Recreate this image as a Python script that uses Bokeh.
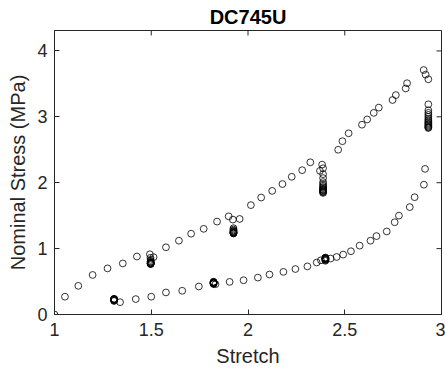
import math
from bokeh.plotting import figure
from bokeh.models import FixedTicker, Range1d
from bokeh.embed import file_html
from bokeh.resources import INLINE

# Multi-step relaxation test: loading ramps with holds, then unloading ramps with holds
load_stretch = [
    1.000, 1.054, 1.123, 1.197, 1.274, 1.353, 1.426, 1.493,
    1.496, 1.497, 1.497, 1.497, 1.497, 1.497, 1.497, 1.497, 1.497, 1.497, 1.497, 1.497,
    1.512, 1.576, 1.643, 1.706, 1.771, 1.840, 1.900,
    1.922, 1.925, 1.925, 1.925, 1.925, 1.925, 1.925, 1.925, 1.925, 1.925, 1.925, 1.925,
    1.957, 2.015, 2.068, 2.125, 2.178, 2.226, 2.280, 2.322,
    2.383, 2.388, 2.372, 2.388, 2.388, 2.388, 2.388, 2.388, 2.388, 2.388, 2.388, 2.388,
    2.388, 2.388, 2.388, 2.388, 2.388,
    2.466, 2.488, 2.520, 2.589, 2.616, 2.650, 2.676, 2.747, 2.764, 2.815, 2.822, 2.908,
    2.918, 2.932, 2.932, 2.932, 2.932, 2.932, 2.932, 2.932, 2.932, 2.932, 2.932, 2.932,
    2.932, 2.932, 2.932, 2.932, 2.932,
]
load_stress = [
    0.000, 0.270, 0.435, 0.600, 0.700, 0.775, 0.880, 0.914,
    0.860, 0.830, 0.810, 0.800, 0.790, 0.785, 0.780, 0.777, 0.774, 0.771, 0.768, 0.765,
    0.870, 1.020, 1.120, 1.226, 1.300, 1.410, 1.490,
    1.440, 1.310, 1.290, 1.275, 1.265, 1.257, 1.250, 1.245, 1.240, 1.236, 1.233, 1.230,
    1.450, 1.660, 1.775, 1.876, 1.980, 2.090, 2.190, 2.310,
    2.275, 2.220, 2.180, 2.130, 2.070, 2.010, 1.980, 1.955, 1.935, 1.920, 1.905, 1.895,
    1.885, 1.875, 1.865, 1.855, 1.845,
    2.500, 2.630, 2.750, 2.880, 2.960, 3.060, 3.140, 3.255, 3.330, 3.430, 3.510, 3.710,
    3.640, 3.570, 3.190, 3.100, 3.060, 3.030, 3.000, 2.970, 2.950, 2.930, 2.910, 2.895,
    2.880, 2.865, 2.850, 2.840, 2.830,
]

unload_stretch = [
    2.915, 2.909, 2.861, 2.836, 2.780, 2.758, 2.717, 2.664, 2.633, 2.577, 2.532,
    2.492, 2.458, 2.427,
    2.400, 2.400, 2.400, 2.400, 2.400, 2.400, 2.400, 2.400, 2.400, 2.400,
    2.377, 2.355, 2.307, 2.245, 2.183, 2.111, 2.051, 1.977, 1.905, 1.832,
    1.822, 1.822, 1.822, 1.822, 1.822, 1.822, 1.822, 1.822, 1.822,
    1.746, 1.660, 1.576, 1.500, 1.420, 1.339,
    1.308, 1.308, 1.308, 1.308, 1.308, 1.308, 1.308, 1.308, 1.308,
]
unload_stress = [
    2.210, 1.970, 1.780, 1.630, 1.500, 1.400, 1.260, 1.190, 1.120, 1.045, 0.960,
    0.909, 0.873, 0.849,
    0.815, 0.825, 0.832, 0.838, 0.843, 0.848, 0.852, 0.856, 0.860, 0.864,
    0.823, 0.789, 0.730, 0.690, 0.647, 0.607, 0.560, 0.520, 0.495, 0.460,
    0.462, 0.468, 0.473, 0.477, 0.481, 0.485, 0.489, 0.493, 0.497,
    0.425, 0.360, 0.335, 0.270, 0.234, 0.187,
    0.205, 0.212, 0.218, 0.222, 0.226, 0.229, 0.232, 0.235, 0.238,
]

x_ticks = [1, 1.5, 2, 2.5, 3]
y_ticks = [0, 1, 2, 3, 4]
x_lim = (1, 3)
y_lim = (0, 4.31)

FONT = "Liberation Sans"
AX = "#262626"

p = figure(
    width=445, height=379,
    output_backend="svg", toolbar_location=None,
    x_range=Range1d(*x_lim), y_range=Range1d(*y_lim),
    min_border_left=54, min_border_right=4, min_border_top=29, min_border_bottom=65,
    title="DC745U",
)
p.title.align = "center"
p.title.text_font = FONT
p.title.text_font_size = "20px"
p.title.text_font_style = "bold"
p.title.text_color = "black"
p.title.standoff = 6

p.grid.visible = False
p.outline_line_color = AX
p.outline_line_width = 1
p.background_fill_color = "white"
p.border_fill_color = "white"

p.scatter(load_stretch, load_stress, marker="circle", size=6.8,
          fill_color=None, line_color="black", line_width=0.8)
p.scatter(unload_stretch, unload_stress, marker="circle", size=6.8,
          fill_color=None, line_color="black", line_width=0.8)

# mirrored tick marks on the top and right edges of the box (5 px, pointing inward)
p.ray(x=x_ticks, y=[y_lim[1]] * len(x_ticks), length=5, length_units="screen",
      angle=-math.pi / 2, line_color=AX, line_width=1)
p.ray(x=[x_lim[1]] * len(y_ticks), y=y_ticks, length=5, length_units="screen",
      angle=math.pi, line_color=AX, line_width=1)


def style(axis, ticks):
    axis.ticker = FixedTicker(ticks=ticks)
    axis.minor_tick_line_color = None
    axis.major_tick_in = 5
    axis.major_tick_out = 0
    axis.major_tick_line_color = AX
    axis.axis_line_color = AX
    axis.major_label_text_font = FONT
    axis.major_label_text_font_size = "18px"
    axis.major_label_text_color = AX
    axis.axis_label_text_font = FONT
    axis.axis_label_text_font_size = "20px"
    axis.axis_label_text_font_style = "normal"
    axis.axis_label_text_color = AX


xa = p.xaxis[0]
ya = p.yaxis[0]
style(xa, x_ticks)
style(ya, y_ticks)
xa.axis_label = "Stretch"
ya.axis_label = "Nominal Stress (MPa)"
xa.major_label_standoff = 8
xa.axis_label_standoff = 6
ya.major_label_standoff = 7
ya.axis_label_standoff = 5

open("out.html", "w").write(file_html(p, INLINE))
